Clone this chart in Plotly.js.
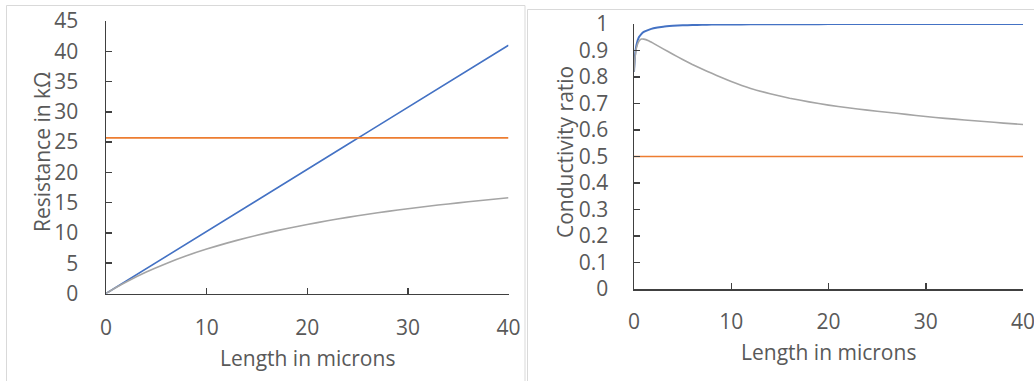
<!DOCTYPE html>
<html>
<head>
<meta charset="utf-8">
<script src="https://cdn.plot.ly/plotly-3.0.1.min.js"></script>
<style>
  html, body { margin: 0; padding: 0; background: #ffffff; }
  #chart { width: 1034px; height: 381px; }
</style>
</head>
<body>
<div id="chart"></div>
<script>
// Left panel: resistance versus length
const lengthLeft = [0, 1, 2, 4, 6, 8, 10, 12, 14, 16, 18, 20, 22, 24, 26, 28, 30, 32, 34, 36, 38, 40];
const resistanceBlue = [0, 1.03, 2.05, 4.1, 6.15, 8.2, 10.25, 12.3, 14.35, 16.4, 18.45, 20.5, 22.55, 24.6, 26.65, 28.7, 30.75, 32.8, 34.85, 36.9, 38.95, 41.0];
const resistanceOrange = [25.7, 25.7, 25.7, 25.7, 25.7, 25.7, 25.7, 25.7, 25.7, 25.7, 25.7, 25.7, 25.7, 25.7, 25.7, 25.7, 25.7, 25.7, 25.7, 25.7, 25.7, 25.7];
const resistanceGray = [0, 0.99, 1.9, 3.54, 4.96, 6.22, 7.33, 8.32, 9.21, 10.01, 10.74, 11.4, 12.01, 12.57, 13.08, 13.56, 14.0, 14.41, 14.79, 15.15, 15.48, 15.8];

// Right panel: conductivity ratio versus length
const lengthRight = [0, 0.1, 0.25, 0.5, 0.75, 1, 1.5, 2, 3, 4, 5, 6, 7, 8, 9, 10, 12, 14, 16, 18, 20, 22, 24, 26, 28, 30, 32, 34, 36, 38, 40];
const ratioBlue = [0.82, 0.88, 0.92, 0.95, 0.962, 0.97, 0.978, 0.984, 0.99, 0.993, 0.995, 0.996, 0.997, 0.998, 0.998, 0.998, 0.999, 0.999, 0.999, 0.999, 1, 1, 1, 1, 1, 1, 1, 1, 1, 1, 1];
const ratioOrange = [0.5, 0.5, 0.5, 0.5, 0.5, 0.5, 0.5, 0.5, 0.5, 0.5, 0.5, 0.5, 0.5, 0.5, 0.5, 0.5, 0.5, 0.5, 0.5, 0.5, 0.5, 0.5, 0.5, 0.5, 0.5, 0.5, 0.5, 0.5, 0.5, 0.5, 0.5];
const ratioGray = [0.82, 0.87, 0.91, 0.935, 0.943, 0.943, 0.937, 0.927, 0.906, 0.886, 0.866, 0.847, 0.83, 0.814, 0.798, 0.783, 0.757, 0.737, 0.72, 0.706, 0.694, 0.684, 0.675, 0.667, 0.659, 0.651, 0.644, 0.638, 0.632, 0.626, 0.621];

const xTitle = 'Length in microns';
const yTitleLeft = 'Resistance in kΩ';
const yTitleRight = 'Conductivity ratio';

const W = 1034, H = 381;
const px = v => v / W;          // horizontal pixel -> paper
const py = v => 1 - v / H;      // vertical pixel -> paper

const BLUE = '#4472C4', ORANGE = '#ED7D31', GRAY = '#A5A5A5';
const AXIS = '#404040', TEXT = '#595959';
const FONT = 'Open Sans, DejaVu Sans, sans-serif';
const FS = 21;

const traces = [
  { x: lengthLeft, y: resistanceBlue, xaxis: 'x', yaxis: 'y', mode: 'lines', line: { color: BLUE, width: 1.6 } },
  { x: lengthLeft, y: resistanceOrange, xaxis: 'x', yaxis: 'y', mode: 'lines', line: { color: ORANGE, width: 1.6 } },
  { x: lengthLeft, y: resistanceGray, xaxis: 'x', yaxis: 'y', mode: 'lines', line: { color: GRAY, width: 1.6, shape: 'spline', smoothing: 0.6 } },
  { x: lengthRight, y: ratioBlue, xaxis: 'x2', yaxis: 'y2', mode: 'lines', line: { color: BLUE, width: 2, shape: 'spline', smoothing: 0.4 } },
  { x: lengthRight, y: ratioOrange, xaxis: 'x2', yaxis: 'y2', mode: 'lines', line: { color: ORANGE, width: 1.6 } },
  { x: lengthRight, y: ratioGray, xaxis: 'x2', yaxis: 'y2', mode: 'lines', line: { color: GRAY, width: 1.6, shape: 'spline', smoothing: 0.4 } }
];

const axisCommon = {
  showline: true, linecolor: AXIS, linewidth: 1.5,
  ticks: 'inside', ticklen: 6, tickwidth: 1.5, tickcolor: AXIS,
  showgrid: false, zeroline: false, fixedrange: true,
  ticklabeloverflow: 'allow',
  tickfont: { family: FONT, size: FS, color: TEXT }
};

const layout = {
  width: W, height: H,
  margin: { l: 0, r: 0, t: 0, b: 0 },
  paper_bgcolor: '#ffffff', plot_bgcolor: '#ffffff',
  showlegend: false,
  xaxis: Object.assign({}, axisCommon, {
    domain: [px(106), px(508.5)], range: [0, 40], tickvals: [0, 10, 20, 30, 40],
    anchor: 'y', ticklabelstandoff: 15
  }),
  yaxis: Object.assign({}, axisCommon, {
    domain: [py(293.5), py(21)], range: [0, 45], dtick: 5, tick0: 0,
    anchor: 'x', ticklabelstandoff: 22
  }),
  xaxis2: Object.assign({}, axisCommon, {
    domain: [px(634), px(1023)], range: [0, 40], tickvals: [0, 10, 20, 30, 40],
    anchor: 'y2', ticklabelstandoff: 13
  }),
  yaxis2: Object.assign({}, axisCommon, {
    domain: [py(289), py(24)], range: [0, 1], dtick: 0.1, tick0: 0,
    anchor: 'x2', ticklabelstandoff: 20
  }),
  annotations: [
    { text: xTitle, xref: 'paper', yref: 'paper', x: px(307), y: py(358), showarrow: false,
      xanchor: 'center', yanchor: 'middle', font: { family: FONT, size: FS, color: TEXT } },
    { text: xTitle, xref: 'paper', yref: 'paper', x: px(828), y: py(352), showarrow: false,
      xanchor: 'center', yanchor: 'middle', font: { family: FONT, size: FS, color: TEXT } },
    { text: yTitleLeft, xref: 'paper', yref: 'paper', x: px(42), y: py(152), showarrow: false,
      textangle: -90, xanchor: 'center', yanchor: 'middle', font: { family: FONT, size: FS, color: TEXT } },
    { text: yTitleRight, xref: 'paper', yref: 'paper', x: px(565), y: py(152), showarrow: false,
      textangle: -90, xanchor: 'center', yanchor: 'middle', font: { family: FONT, size: FS, color: TEXT } }
  ],
  shapes: [
    // chart-area frames around each panel
    { type: 'rect', xref: 'paper', yref: 'paper', x0: px(6.5), x1: px(525), y0: py(395), y1: py(5.5),
      line: { color: '#D9D9D9', width: 1 }, fillcolor: 'rgba(0,0,0,0)', layer: 'below' },
    { type: 'rect', xref: 'paper', yref: 'paper', x0: px(527.5), x1: px(1045), y0: py(395), y1: py(9.5),
      line: { color: '#D9D9D9', width: 1 }, fillcolor: 'rgba(0,0,0,0)', layer: 'below' }
  ]
};

Plotly.newPlot('chart', traces, layout, { staticPlot: true, displayModeBar: false });
</script>
</body>
</html>
